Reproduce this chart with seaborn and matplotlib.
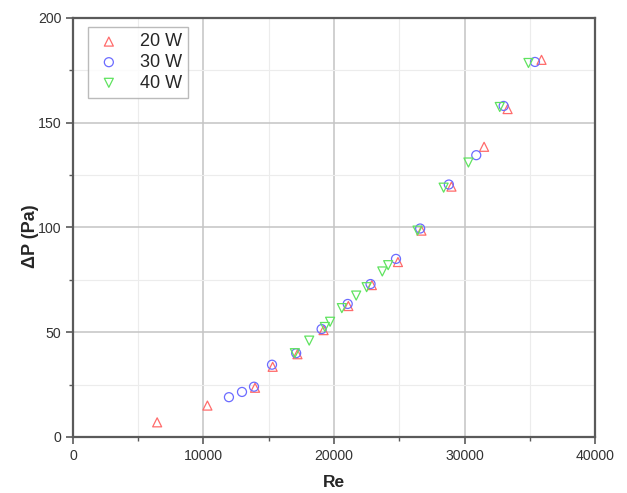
import pandas as pd
import matplotlib
matplotlib.use("Agg")
import matplotlib.pyplot as plt
import seaborn as sns
from matplotlib.ticker import MultipleLocator

# Data
re_20w = [6450, 10300, 13950, 15300, 17200, 19200, 21100, 22900, 24900, 26700, 29000, 31500, 33300, 35900]
dp_20w = [7, 15, 23.5, 33.5, 39.5, 51, 62.5, 72.5, 83.5, 98.5, 119.5, 138.5, 156.5, 180]

re_30w = [11950, 12950, 13870, 15250, 17100, 19050, 21050, 22800, 24750, 26600, 28800, 30900, 33000, 35400]
dp_30w = [19, 21.5, 24, 34.5, 40, 51.5, 63.5, 73, 85, 99.5, 120.5, 134.5, 158, 179]

re_40w = [17000, 18100, 19300, 19700, 20600, 21700, 22500, 23700, 24150, 26400, 28400, 30300, 32700, 34900]
dp_40w = [40, 46, 52.5, 55, 61.5, 67.5, 71.5, 79, 82, 98.5, 119, 131, 157.5, 178.5]

series = ["20 W", "30 W", "40 W"]

sns.set_style("white")
plt.rcParams["font.family"] = ["Liberation Sans", "DejaVu Sans"]

fig = plt.figure(figsize=(6.27, 4.93), dpi=100)
ax = fig.add_axes([0.1164, 0.1136, 0.8326, 0.85])

styles = {
    "20 W": ("^", "#ff6b6b", re_20w, dp_20w),
    "30 W": ("o", "#6b6bff", re_30w, dp_30w),
    "40 W": ("v", "#5fe35f", re_40w, dp_40w),
}
for name in series:
    marker, color, xs, ys = styles[name]
    sns.scatterplot(x=xs, y=ys, marker=marker, s=42, facecolors="none",
                    edgecolors=color, linewidths=0.9, label=name, ax=ax, zorder=3)

ax.set_xlim(0, 40000)
ax.set_ylim(0, 200)
ax.xaxis.set_major_locator(MultipleLocator(10000))
ax.xaxis.set_minor_locator(MultipleLocator(5000))
ax.yaxis.set_major_locator(MultipleLocator(50))
ax.yaxis.set_minor_locator(MultipleLocator(25))

ax.set_axisbelow(True)
ax.grid(True, which="major", color="#c4c4c4", lw=1.1)
ax.grid(True, which="minor", color="#ececec", lw=0.8)

for side in ["left", "bottom", "top", "right"]:
    ax.spines[side].set_visible(True)
    ax.spines[side].set_color("#5a5a5a")
    ax.spines[side].set_linewidth(1.6)

ax.tick_params(which="major", direction="out", length=5, width=1.2, color="#5a5a5a",
               labelsize=10.2, labelcolor="#333333", left=True, bottom=True)
ax.tick_params(which="minor", direction="out", length=3, width=1.0, color="#5a5a5a",
               left=True, bottom=True)

ax.set_xlabel("Re", fontsize=12.5, fontweight="bold", labelpad=9)
ax.set_ylabel("ΔP (Pa)", fontsize=13, fontweight="bold")
ax.yaxis.set_label_coords(-0.066, 0.48)

leg = ax.legend(loc="upper left", bbox_to_anchor=(0.022, 0.987), fontsize=13,
                frameon=True, fancybox=False, edgecolor="#aaaaaa",
                handletextpad=0.9, borderpad=0.35, labelspacing=0.2,
                borderaxespad=0.2, handlelength=1.6)
leg.get_frame().set_linewidth(1.0)

fig.savefig("out.png", dpi=100)
